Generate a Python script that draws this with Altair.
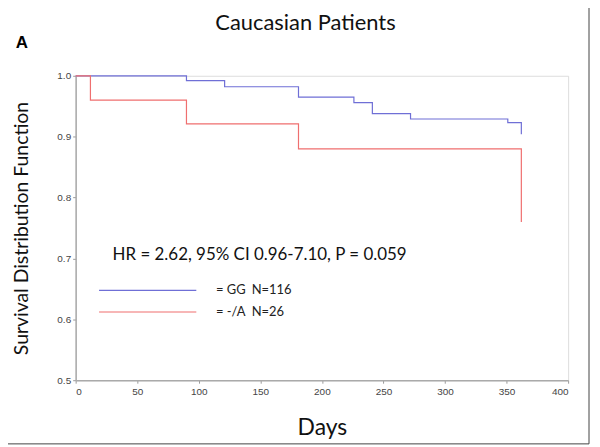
import altair as alt
import pandas as pd

# ---- data ----
gg_days = [0, 90, 121, 181, 226, 241, 272, 351, 362]
gg_surv = [1.0, 0.992, 0.982, 0.965, 0.956, 0.938, 0.929, 0.923, 0.904]
a_days = [0, 12, 90, 181, 362]
a_surv = [1.0, 0.960, 0.921, 0.880, 0.760]

x_ticks = [0, 50, 100, 150, 200, 250, 300, 350, 400]
y_ticks = [0.5, 0.6, 0.7, 0.8, 0.9, 1.0]

legend_groups = ["= GG", "= -/A"]
legend_n = ["N=116", "N=26"]
legend_y = [0.6475, 0.612]
legend_colors = ["#6f6fd6", "#ef6f6f"]

title_text = "Caucasian Patients"
panel_label = "A"
annotation = "HR = 2.62, 95% CI 0.96-7.10, P = 0.059"

BLUE, RED = legend_colors
W, H = 495, 306
FONT = "Lato"

curves = pd.DataFrame(
    {"day": gg_days + a_days,
     "surv": gg_surv + a_surv,
     "group": ["GG"] * len(gg_days) + ["-/A"] * len(a_days)}
)

xs = alt.Scale(domain=[0, 400], nice=False, zero=False)
ys = alt.Scale(domain=[0.5, 1.0], nice=False, zero=False)

base = alt.Chart(curves)

lines = base.mark_line(interpolate="step-after", strokeWidth=1.2, clip=False).encode(
    x=alt.X("day:Q", scale=xs,
            axis=alt.Axis(values=x_ticks, title="Days", titleFontSize=23,
                          titleFont=FONT, titleFontWeight="normal", titleColor="#111",
                          titleBaseline="middle", titleY=48,
                          labelFontSize=10, labelColor="#444", labelFont="Liberation Sans",
                          tickSize=3, tickColor="#999", domainColor="#aaa",
                          domainWidth=1.5, labelPadding=3, grid=False)),
    y=alt.Y("surv:Q", scale=ys,
            axis=alt.Axis(values=y_ticks, format=".1f", title="Survival Distribution Function",
                          titleFontSize=19.5, titleFont=FONT, titleFontWeight="normal",
                          titleColor="#111", titleBaseline="middle", titleX=-54, titleY=H / 2,
                          titleAngle=-90,
                          labelFontSize=10, labelColor="#444", labelFont="Liberation Sans",
                          tickSize=3, tickColor="#999", domainColor="#aaa",
                          domainWidth=1.5, labelPadding=2, grid=False)),
    color=alt.Color("group:N", scale=alt.Scale(domain=["GG", "-/A"], range=[BLUE, RED]),
                    legend=None),
    detail="group:N",
)

ann_df = pd.DataFrame({"x": [30], "y": [0.706], "t": [annotation]})
ann = alt.Chart(ann_df).mark_text(align="left", baseline="middle", font=FONT,
                                  fontSize=17, color="#111").encode(
    x=alt.X("x:Q", scale=xs), y=alt.Y("y:Q", scale=ys), text="t:N")

leg_df = pd.DataFrame({"x1": [19, 19], "x2": [98, 98], "y": legend_y,
                       "g": legend_groups, "n": legend_n, "c": legend_colors})
leg_lines = alt.Chart(leg_df).mark_rule(strokeWidth=1.2).encode(
    x=alt.X("x1:Q", scale=xs), x2="x2:Q", y=alt.Y("y:Q", scale=ys),
    color=alt.Color("c:N", scale=None))
leg_g = alt.Chart(leg_df).mark_text(align="left", baseline="middle", font=FONT,
                                    fontSize=13, color="#222").encode(
    x=alt.value(114 * W / 400), y=alt.Y("y:Q", scale=ys), text="g:N")
leg_n = alt.Chart(leg_df).mark_text(align="left", baseline="middle", font=FONT,
                                    fontSize=13, color="#222").encode(
    x=alt.value(143 * W / 400), y=alt.Y("y:Q", scale=ys), text="n:N")

title_df = pd.DataFrame({"t": [title_text]})
title = alt.Chart(title_df).mark_text(align="center", baseline="middle", font=FONT,
                                      fontSize=22, color="#111").encode(
    x=alt.value(307 - 76), y=alt.value(22 - 75), text="t:N")

panel_df = pd.DataFrame({"t": [panel_label]})
panel = alt.Chart(panel_df).mark_text(align="center", baseline="middle", font="Liberation Sans",
                                      fontSize=17, fontWeight="bold", color="#000").encode(
    x=alt.value(22 - 76), y=alt.value(42 - 75), text="t:N")

frame_r = alt.Chart(panel_df).mark_rule(color="#444", strokeWidth=1).encode(
    x=alt.value(592 - 76), y=alt.value(-75), y2=alt.value(445 - 75))
frame_b = alt.Chart(panel_df).mark_rule(color="#444", strokeWidth=1).encode(
    x=alt.value(4 - 76), x2=alt.value(592 - 76), y=alt.value(445 - 75))

chart = alt.layer(lines, ann, leg_lines, leg_g, leg_n, title, panel, frame_r, frame_b).properties(
    width=W, height=H,
    autosize=alt.AutoSizeParams(type="none"),
    padding={"left": 68, "top": 67, "right": 24, "bottom": 66},
).configure_view(stroke="#bbb", strokeWidth=1.5).configure(background="white")

chart.save("out.html", embed_options={"renderer": "svg", "actions": False})
